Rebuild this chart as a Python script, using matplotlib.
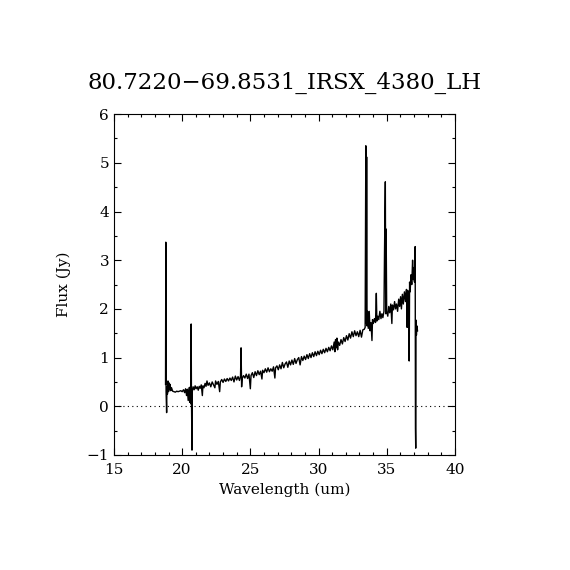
import matplotlib
matplotlib.use("Agg")
import matplotlib.pyplot as plt
from matplotlib.ticker import MultipleLocator

# spectrum (wavelength in um, flux in Jy)
wave = [
    18.78, 18.80, 18.82, 18.84, 18.86, 18.88, 18.92, 18.96, 19.00, 19.04,
    19.08, 19.12, 19.16, 19.22, 19.30, 19.40, 19.50, 19.60, 19.70, 19.80,
    19.90, 20.00, 20.10, 20.18, 20.25, 20.32, 20.38, 20.44, 20.50, 20.55,
    20.60, 20.64, 20.66, 20.68, 20.70, 20.72, 20.74, 20.80, 20.88, 20.95,
    21.02, 21.10, 21.18, 21.25, 21.32, 21.40, 21.48, 21.52, 21.60, 21.68,
    21.75, 21.82, 21.90, 22.00, 22.10, 22.20, 22.30, 22.40, 22.45, 22.55,
    22.65, 22.75, 22.80, 22.90, 23.00, 23.10, 23.20, 23.30, 23.40, 23.50,
    23.60, 23.70, 23.80, 23.90, 24.00, 24.10, 24.20, 24.28, 24.32, 24.36,
    24.40, 24.50, 24.60, 24.70, 24.80, 24.90, 25.00, 25.05, 25.15, 25.25,
    25.35, 25.45, 25.55, 25.65, 25.75, 25.85, 25.90, 26.00, 26.10, 26.20,
    26.30, 26.40, 26.50, 26.60, 26.70, 26.80, 26.85, 26.95, 27.05, 27.15,
    27.25, 27.35, 27.45, 27.55, 27.65, 27.75, 27.85, 27.95, 28.05, 28.15,
    28.25, 28.35, 28.45, 28.55, 28.65, 28.75, 28.85, 28.95, 29.05, 29.15,
    29.25, 29.35, 29.45, 29.55, 29.65, 29.75, 29.85, 29.95, 30.05, 30.15,
    30.25, 30.35, 30.45, 30.55, 30.65, 30.75, 30.85, 30.95, 31.05, 31.15,
    31.20, 31.25, 31.30, 31.35, 31.40, 31.45, 31.55, 31.65, 31.75, 31.85,
    31.95, 32.05, 32.15, 32.25, 32.35, 32.45, 32.55, 32.65, 32.75, 32.85,
    32.95, 33.05, 33.15, 33.25, 33.35, 33.42, 33.47, 33.50, 33.53, 33.56,
    33.60, 33.65, 33.72, 33.78, 33.85, 33.92, 33.96, 34.02, 34.10, 34.18,
    34.24, 34.28, 34.35, 34.42, 34.50, 34.58, 34.65, 34.72, 34.80, 34.84,
    34.90, 34.93, 34.96, 35.00, 35.08, 35.15, 35.22, 35.30, 35.38, 35.42,
    35.50, 35.58, 35.65, 35.72, 35.80, 35.88, 35.95, 36.02, 36.08, 36.15,
    36.22, 36.30, 36.38, 36.45, 36.50, 36.54, 36.60, 36.65, 36.68, 36.72,
    36.78, 36.84, 36.90, 36.95, 37.00, 37.04, 37.09, 37.11, 37.13, 37.15,
    37.18, 37.22, 37.26,
]
flux = [
    0.45, 3.37, 0.30, 0.12, -0.13, 0.40, 0.25, 0.52, 0.30, 0.48,
    0.34, 0.45, 0.32, 0.38, 0.31, 0.30, 0.29, 0.31, 0.30, 0.31,
    0.32, 0.30, 0.34, 0.28, 0.36, 0.22, 0.35, 0.12, 0.38, 0.08,
    0.40, 0.05, 1.69, 0.20, -0.26, -0.90, 0.30, 0.40, 0.34, 0.42,
    0.36, 0.40, 0.33, 0.41, 0.37, 0.44, 0.22, 0.42, 0.38, 0.47,
    0.41, 0.52, 0.43, 0.48, 0.40, 0.50, 0.44, 0.38, 0.52, 0.45,
    0.51, 0.30, 0.50, 0.55, 0.49, 0.56, 0.51, 0.57, 0.52, 0.58,
    0.53, 0.60, 0.50, 0.62, 0.54, 0.61, 0.53, 0.62, 1.20, 0.40,
    0.57, 0.63, 0.58, 0.66, 0.57, 0.66, 0.36, 0.63, 0.69, 0.59,
    0.71, 0.63, 0.73, 0.65, 0.72, 0.56, 0.74, 0.69, 0.77, 0.70,
    0.79, 0.71, 0.77, 0.72, 0.81, 0.58, 0.79, 0.83, 0.75, 0.85,
    0.77, 0.90, 0.79, 0.87, 0.91, 0.80, 0.93, 0.85, 0.95, 0.86,
    0.98, 0.88, 0.96, 1.00, 0.85, 1.02, 0.94, 1.03, 0.96, 1.06,
    0.98, 1.08, 1.00, 1.10, 1.02, 1.12, 1.04, 1.13, 1.06, 1.15,
    1.08, 1.17, 1.10, 1.19, 1.12, 1.21, 1.14, 1.24, 1.16, 1.32,
    1.12, 1.37, 1.20, 1.40, 1.16, 1.32, 1.25, 1.37, 1.28, 1.41,
    1.33, 1.45, 1.36, 1.49, 1.40, 1.53, 1.43, 1.55, 1.45, 1.53,
    1.43, 1.56, 1.42, 1.57, 1.58, 1.62, 5.35, 1.70, 5.12, 1.65,
    1.95, 1.60, 1.95, 1.55, 1.72, 1.35, 1.78, 1.70, 1.80, 1.72,
    2.32, 1.75, 1.85, 1.78, 1.95, 1.80, 1.90, 1.82, 1.95, 3.15,
    4.61, 1.90, 3.64, 1.95, 1.85, 2.05, 1.92, 2.10, 1.70, 2.08,
    1.98, 2.15, 2.00, 2.10, 1.95, 2.20, 2.05, 2.25, 2.00, 2.30,
    2.10, 2.35, 2.15, 2.40, 1.62, 2.38, 2.25, 0.93, 2.55, 2.35,
    2.70, 2.50, 3.00, 2.60, 2.85, 2.55, 3.28, -0.45, -0.86, 1.77,
    1.46, 1.65, 1.55,
]

title = "80.7220\u221269.8531_IRSX_4380_LH"

plt.rcParams["font.family"] = ["DejaVu Serif"]
plt.rcParams["mathtext.fontset"] = "dejavuserif"

fig = plt.figure(figsize=(5.7, 5.7), dpi=100)
ax = fig.add_axes([0.2, 0.2018, 0.598, 0.598])

ax.plot(wave, flux, color="black", lw=1.0)
ax.axhline(0, color="black", lw=0.8, ls=(0, (1, 3)))

ax.set_xlim(15, 40)
ax.set_ylim(-1, 6)
ax.xaxis.set_major_locator(MultipleLocator(5))
ax.xaxis.set_minor_locator(MultipleLocator(1))
ax.yaxis.set_major_locator(MultipleLocator(1))
ax.yaxis.set_minor_locator(MultipleLocator(0.5))
ax.tick_params(which="both", direction="in", top=True, right=True,
               width=0.8, labelsize=11)
ax.tick_params(axis="x", which="major", pad=6)
ax.tick_params(which="major", length=5)
ax.tick_params(which="minor", length=2.5)
for s in ax.spines.values():
    s.set_linewidth(0.8)

ax.set_xlabel("Wavelength (um)", fontsize=11, labelpad=4)
ax.set_ylabel("Flux (Jy)", fontsize=11, labelpad=11)
ax.set_title(title, fontsize=16.5, pad=18)

fig.savefig("out.png", dpi=100)
